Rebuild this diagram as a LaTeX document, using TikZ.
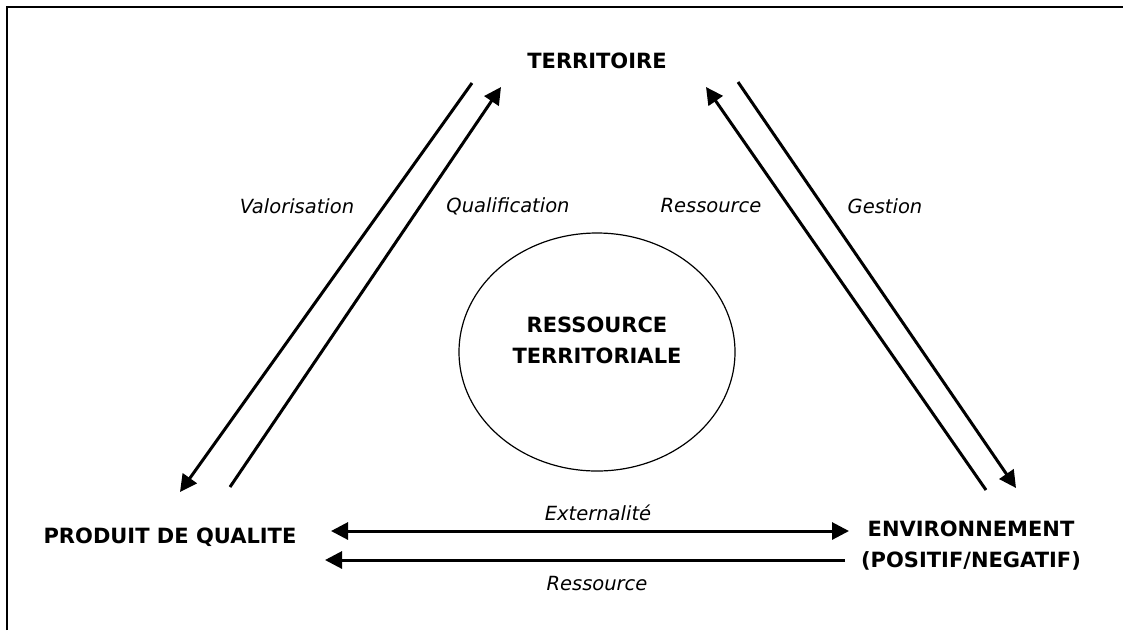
\documentclass[tikz,border=0pt]{standalone}
\usepackage{fontspec}
\setmainfont{DejaVu Sans}
\usetikzlibrary{arrows.meta,shapes.geometric}
\begin{document}
\begin{tikzpicture}[x=1pt,y=-1pt,
  bigtext/.style={font=\fontsize{21}{31}\selectfont\bfseries, align=center, inner sep=0pt},
  lbl/.style={font=\fontsize{19.5}{23}\selectfont\itshape, inner sep=0pt},
  tip/.tip={Triangle[length=17pt,width=17pt]},
  arr/.style={line width=3pt, -tip},
  darr/.style={line width=3pt, tip-tip}]
\useasboundingbox (0,0) rectangle (1123,630);
\draw[line width=2.5pt] (7,630) -- (7,7) -- (1123,7);

\node[bigtext] (ter) at (597,61) {TERRITOIRE};
\node[bigtext] (prod) at (170,537) {PRODUIT DE QUALITE};
\node[bigtext] (env) at (971,546) {ENVIRONNEMENT\\(POSITIF/NEGATIF)};
\node[draw, ellipse, line width=1.2pt, minimum width=276pt, minimum height=238pt, inner sep=0pt] (circ) at (597,352) {};
\node[bigtext] (rt) at (597,340) {RESSOURCE\\TERRITORIALE};

\coordinate (a1s) at (472,83);  \coordinate (a1e) at (180,492);
\coordinate (a2s) at (230,487); \coordinate (a2e) at (501,87);
\coordinate (a3s) at (986,490); \coordinate (a3e) at (706,87);
\coordinate (a4s) at (738,82);  \coordinate (a4e) at (1016,488);
\coordinate (a5s) at (331,531); \coordinate (a5e) at (849,531);
\coordinate (a6s) at (845,560); \coordinate (a6e) at (325,560);

\draw[arr] (a1s) -- (a1e);
\draw[arr] (a2s) -- (a2e);
\draw[arr] (a3s) -- (a3e);
\draw[arr] (a4s) -- (a4e);
\draw[darr] (a5s) -- (a5e);
\draw[arr] (a6s) -- (a6e);

\node[lbl] (lv) at (297,206) {Valorisation};
\node[lbl] (lq) at (508,206) {Qualification};
\node[lbl] (lr) at (711,206) {Ressource};
\node[lbl] (lg) at (885,206) {Gestion};
\node[lbl] (le) at (598,513) {Externalité};
\node[lbl] (lr2) at (597,584) {Ressource};
\end{tikzpicture}
\end{document}
